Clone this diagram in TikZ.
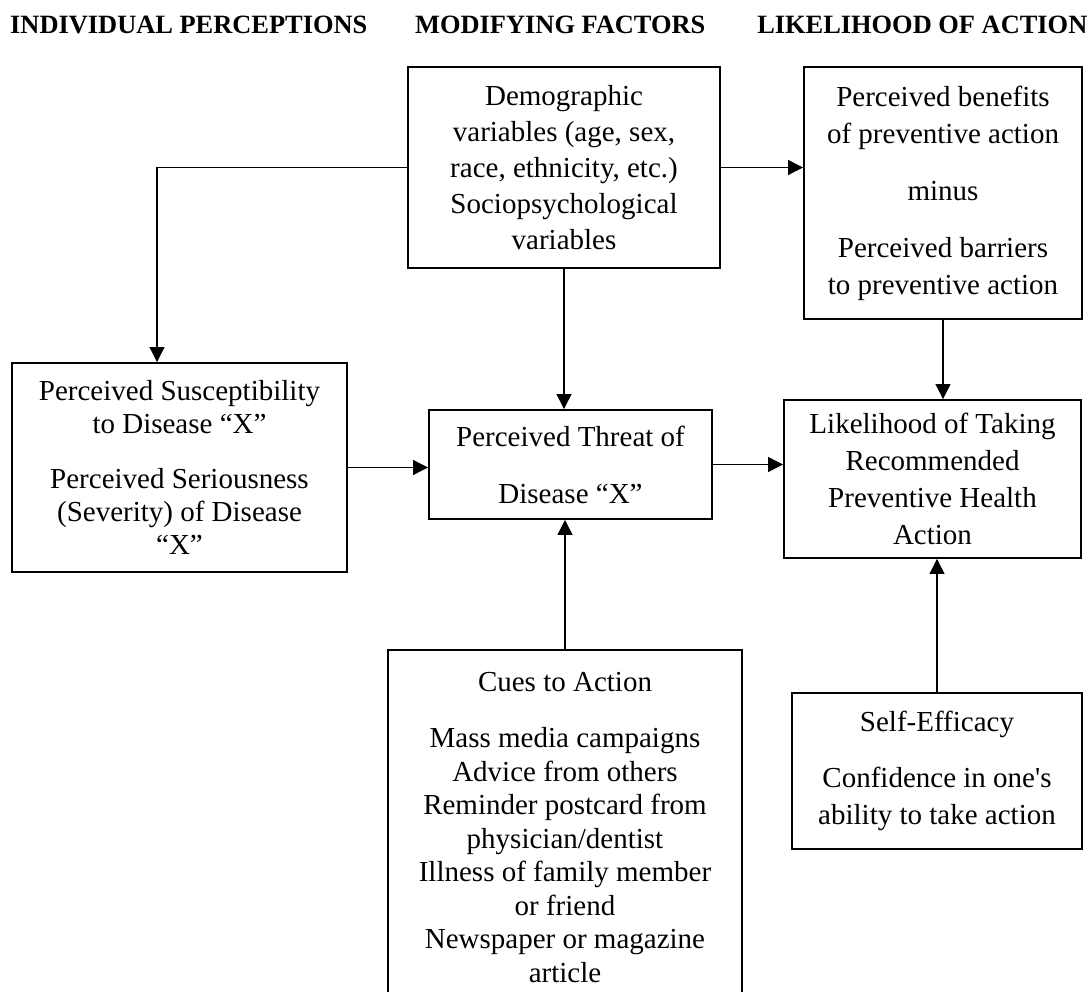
\documentclass[tikz,border=0pt]{standalone}
\usepackage{fontspec}
\setmainfont{Liberation Serif}
\newfontfamily\straightserif{Liberation Serif}
\newcommand{\sq}{{\straightserif '}}
\usetikzlibrary{arrows.meta}
\begin{document}
\begin{tikzpicture}[x=1pt,y=-1pt,
  box/.style={draw, line width=1.9pt, inner sep=0pt, align=center,
    font=\fontsize{29}{36}\selectfont},
  link/.style={line width=1.1pt, -{Triangle[length=15pt,width=15pt]}},
  head/.style={font=\fontsize{26.4}{30}\selectfont\bfseries, anchor=base west, inner sep=0pt}]
\clip (0,0) rectangle (1089,992);
\fill[white] (0,0) rectangle (1089,992);

% column headings
\node[head] (h1) at (10,34) {INDIVIDUAL PERCEPTIONS};
\node[head] (h2) at (415,34) {MODIFYING FACTORS};
\node[head, anchor=base east] (h3) at (1087.5,34) {LIKELIHOOD OF ACTION};

% boxes
\node[box, minimum width=312pt, minimum height=201pt] (demo) at (564,167.5)
  {Demographic\\variables (age, sex,\\race, ethnicity, etc.)\\Sociopsychological\\variables};
\node[box, minimum width=278pt, minimum height=252pt,
  font=\fontsize{29}{37}\selectfont] (benefits) at (943,193)
  {Perceived benefits\\of preventive action\\[20pt]minus\\[20pt]Perceived barriers\\to preventive action};
\node[box, minimum width=335pt, minimum height=209pt,
  font=\fontsize{29}{33}\selectfont] (susc) at (179.5,467.5)
  {Perceived Susceptibility\\to Disease “X”\\[22pt]Perceived Seriousness\\(Severity) of Disease\\“X”};
\node[box, minimum width=283pt, minimum height=109pt,
  font=\fontsize{29}{57}\selectfont] (threat) at (570.5,464.5)
  {Perceived Threat of\\Disease “X”};
\node[box, minimum width=297pt, minimum height=158pt,
  font=\fontsize{29}{37}\selectfont] (likeli) at (932.5,479)
  {Likelihood of Taking\\Recommended\\Preventive Health\\Action};
\node[box, minimum width=290pt, minimum height=156pt,
  font=\fontsize{29}{37}\selectfont] (self) at (937,771)
  {Self-Efficacy\\[19pt]Confidence in one\sq s\\ability to take action};
\node[box, minimum width=354pt, minimum height=355pt,
  font=\fontsize{29}{33.5}\selectfont] (cues) at (565,827.5)
  {Cues to Action\\[23pt]Mass media campaigns\\Advice from others\\Reminder postcard from\\physician/dentist\\Illness of family member\\or friend\\Newspaper or magazine\\article};

% connectors
\draw[link] (demo.west) -| ([xshift=-22.5pt]susc.north);
\draw[link] (demo.east) -- (demo.east -| benefits.west);
\draw[link] (demo.south) -- (demo.south |- threat.north);
\draw[link] (susc.east) -- (susc.east -| threat.west);
\draw[link] (threat.east) -- (threat.east -| likeli.west);
\draw[link] (benefits.south) -- (benefits.south |- likeli.north);
\draw[link] (cues.north) -- (cues.north |- threat.south);
\draw[link] (self.north) -- (self.north |- likeli.south);
\end{tikzpicture}
\end{document}
